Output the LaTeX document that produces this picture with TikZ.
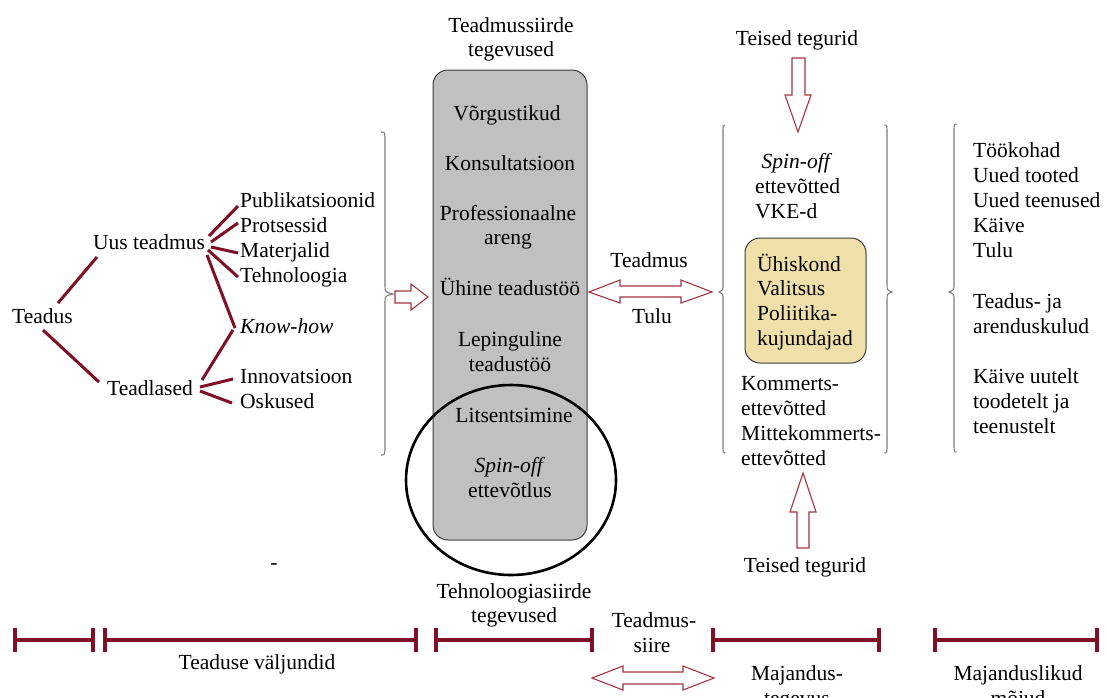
\documentclass[tikz,border=0pt]{standalone}
\usepackage{fontspec}
\setmainfont{Liberation Serif}
\usetikzlibrary{calc}
\definecolor{maroon}{RGB}{128,16,38}
\definecolor{arrred}{RGB}{165,52,66}
\definecolor{bracegray}{RGB}{125,125,125}
\definecolor{boxgray}{RGB}{192,192,192}
\definecolor{boxyellow}{RGB}{238,224,168}
\definecolor{boxborder}{RGB}{60,60,60}
\newcommand{\mybrace}[5]{%
  \draw[bracestyle] ({#1-0.5*(#5)},#2) .. controls ({#1},#2) .. ({#1},{#2+10})
    -- ({#1},{#3-8}) .. controls ({#1},{#3-2}) .. ({#1+(#5)},#3)
    .. controls ({#1},{#3+2}) .. ({#1},{#3+8})
    -- ({#1},{#4-10}) .. controls ({#1},#4) .. ({#1-0.5*(#5)},#4);}
\newcommand{\tlseg}[2]{%
  \draw[tl] (#1,640) -- (#2,640);
  \draw[tl] (#1,628) -- (#1,652);
  \draw[tl] (#2,628) -- (#2,652);}
\begin{document}
\begin{tikzpicture}[x=1pt,y=-1pt,
  every node/.style={font=\fontsize{21.5}{24.5}\selectfont, inner sep=0pt, text=black},
  lt/.style={anchor=base west},
  ct/.style={anchor=base},
  treeline/.style={draw=maroon, line width=3pt},
  bracestyle/.style={draw=bracegray, line width=1.1pt},
  hollow/.style={draw=arrred, line width=1.1pt, fill=white},
  tl/.style={draw=maroon, line width=3.5pt},
  roundbox/.style={draw=boxborder, line width=1pt, rounded corners=15pt}]
\useasboundingbox (0,0) rectangle (1107,697);
\clip (0,0) rectangle (1107,697);

% ---------- left tree ----------
\node[lt] (teadus) at (12,323) {Teadus};
\node[lt] (uus) at (93,249) {Uus teadmus};
\node[lt] (teadlased) at (107,395) {Teadlased};
\node[lt] (pub) at (240,207) {Publikatsioonid};
\node[lt] (prot) at (240,232) {Protsessid};
\node[lt] (mat) at (240,257) {Materjalid};
\node[lt] (teh) at (240,282) {Tehnoloogia};
\node[lt] (know) at (240,333) {\textit{Know-how}};
\node[lt] (inno) at (240,383) {Innovatsioon};
\node[lt] (osk) at (240,408) {Oskused};
\node[ct] (dash) at (274,569) {-};

\draw[treeline] ([shift={(46,-20)}]teadus.base west) -- ([shift={(4,8)}]uus.base west);
\draw[treeline] ([shift={(31,7)}]teadus.base west) -- ([shift={(-8,-13)}]teadlased.base west);
\draw[treeline] ([shift={(116,-13)}]uus.base west) -- ([shift={(-2,-1)}]pub.base west);
\draw[treeline] ([shift={(118,-7)}]uus.base west) -- ([shift={(-2,-9)}]prot.base west);
\draw[treeline] ([shift={(118,-2)}]uus.base west) -- ([shift={(-2,-4)}]mat.base west);
\draw[treeline] ([shift={(115,1)}]uus.base west) -- ([shift={(-2,-5)}]teh.base west);
\draw[treeline] ([shift={(114,6)}]uus.base west) -- ([shift={(-5,-5)}]know.base west);
\draw[treeline] ([shift={(95,-15)}]teadlased.base west) -- ([shift={(-7,-3)}]know.base west);
\draw[treeline] ([shift={(93,-8)}]teadlased.base west) -- ([shift={(-7,-4)}]inno.base west);
\draw[treeline] ([shift={(93,-4)}]teadlased.base west) -- ([shift={(-8,-5)}]osk.base west);

% ---------- braces ----------
\mybrace{385}{132}{294}{455}{8}
\mybrace{723}{125}{292}{453}{-4}
\mybrace{887}{125}{292}{453}{5}
\mybrace{954}{124}{292}{452}{-5}

% ---------- grey box ----------
\node[ct] (th1) at (511,32) {Teadmussiirde};
\node[ct] (th2) at (511,56) {tegevused};
\node[roundbox, fill=boxgray, minimum width=154pt, minimum height=470pt] (gbox) at (510,305) {};
\node[ct] (g1) at (507,120) {Võrgustikud};
\node[ct] (g2) at (510,170) {Konsultatsioon};
\node[ct] (g3) at (508,220) {Professionaalne};
\node[ct] (g4) at (508,244) {areng};
\node[ct] (g5) at (510,295) {Ühine teadustöö};
\node[ct] (g6) at (510,346) {Lepinguline};
\node[ct] (g7) at (510,371) {teadustöö};
\node[ct] (g8) at (514,422) {Litsentsimine};
\node[ct] (g9) at (510,472) {\textit{Spin-off}};
\node[ct] (g10) at (510,497) {ettevõtlus};
\draw[line width=2.6pt] (511,480) ellipse [x radius=105, y radius=95];
\node[ct] (tb1) at (514,598) {Tehnoloogiasiirde};
\node[ct] (tb2) at (514,622) {tegevused};

% ---------- hollow arrows ----------
\draw[hollow] (395,291) -- (411,291) -- (411,284) -- (428,297) -- (411,310) -- (411,303) -- (395,303) -- cycle;
\draw[hollow] (589,292) -- (620,280) -- (620,286) -- (681,286) -- (681,280) -- (712,292)
  -- (681,303) -- (681,297) -- (620,297) -- (620,303) -- cycle;
\node[ct] (teadmus) at (649,267) {Teadmus};
\node[ct] (tulu) at (652,323) {Tulu};
\draw[hollow] (792,58) -- (805,58) -- (805,95) -- (811,95) -- (798,132) -- (785,95) -- (792,95) -- cycle;
\draw[hollow] (803,473) -- (816,512) -- (809,512) -- (809,548) -- (797,548) -- (797,512) -- (790,512) -- cycle;
\draw[hollow] (592,678) -- (623,666) -- (623,672) -- (683,672) -- (683,666) -- (714,678)
  -- (683,690) -- (683,684) -- (623,684) -- (623,690) -- cycle;

% ---------- middle column ----------
\node[ct] (tt1) at (797,45) {Teised tegurid};
\node[ct] (tt2) at (805,572) {Teised tegurid};
\node[ct] (m1) at (797,168) {\textit{Spin-off}};
\node[lt] (m2) at (755,193) {ettevõtted};
\node[lt] (m3) at (755,218) {VKE-d};
\node[roundbox, fill=boxyellow, minimum width=121pt, minimum height=125pt] (ybox) at (805.5,300.5) {};
\node[lt] (y1) at (757,271) {Ühiskond};
\node[lt] (y2) at (757,295) {Valitsus};
\node[lt] (y3) at (757,320) {Poliitika-};
\node[lt] (y4) at (757,345) {kujundajad};
\node[lt] (k1) at (741,390) {Kommerts-};
\node[lt] (k2) at (741,415) {ettevõtted};
\node[lt] (k3) at (741,440) {Mittekommerts-};
\node[lt] (k4) at (741,465) {ettevõtted};

% ---------- right column ----------
\node[lt] (r1) at (973,157) {Töökohad};
\node[lt] (r2) at (973,182) {Uued tooted};
\node[lt] (r3) at (973,207) {Uued teenused};
\node[lt] (r4) at (973,232) {Käive};
\node[lt] (r5) at (973,257) {Tulu};
\node[lt] (r6) at (973,308) {Teadus- ja};
\node[lt] (r7) at (973,333) {arenduskulud};
\node[lt] (r8) at (973,383) {Käive uutelt};
\node[lt] (r9) at (973,408) {toodetelt ja};
\node[lt] (r10) at (973,433) {teenustelt};

% ---------- timeline ----------
\tlseg{15}{93}
\tlseg{105}{416}
\tlseg{436}{592}
\tlseg{713}{879}
\tlseg{935}{1097}
\node[ct] (b1) at (257,669) {Teaduse väljundid};
\node[ct] (b2) at (654,627) {Teadmus-};
\node[ct] (b3) at (652,652) {siire};
\node[ct] (b4) at (797,680) {Majandus-};
\node[ct] (b5) at (797,705) {tegevus};
\node[ct] (b6) at (1018,680) {Majanduslikud};
\node[ct] (b7) at (1018,705) {mõjud};
\end{tikzpicture}
\end{document}
